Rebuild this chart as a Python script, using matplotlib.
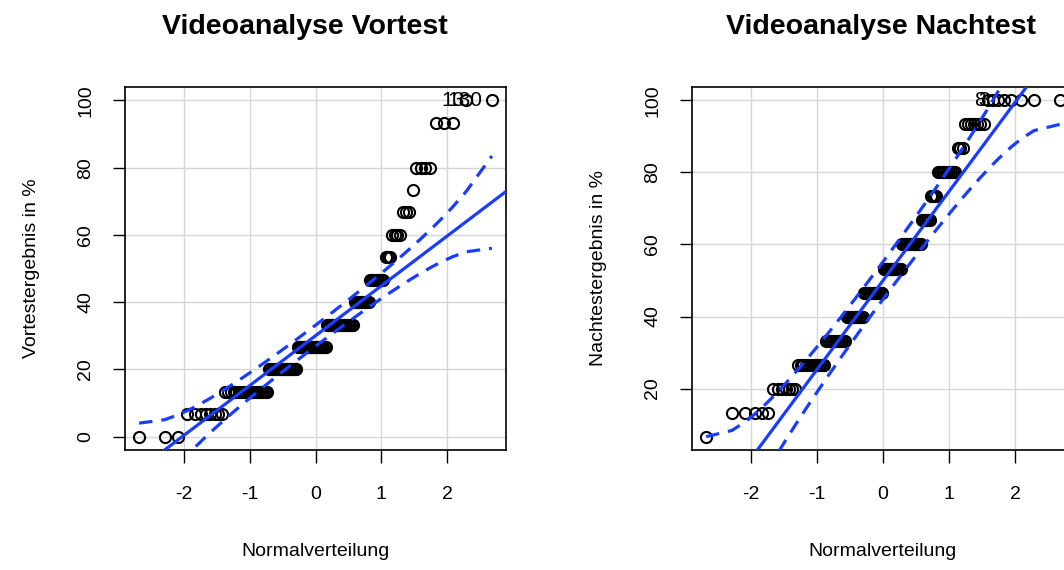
import numpy as np
import matplotlib
matplotlib.use("Agg")
import matplotlib.pyplot as plt
from statistics import NormalDist

plt.rcParams["font.family"] = ["Liberation Sans", "DejaVu Sans"]
plt.rcParams["axes.unicode_minus"] = False

# ── data: score levels (%) and how many students reached each level ─────────
levels_vor = [0, 6.67, 13.33, 20, 26.67, 33.33, 40, 46.67, 53.33, 60, 66.67, 73.33, 80, 93.33, 100]
counts_vor = [3, 8, 21, 21, 24, 21, 10, 8, 3, 4, 3, 1, 4, 3, 2]

levels_nach = [6.67, 13.33, 20, 26.67, 33.33, 40, 46.67, 53.33, 60, 66.67, 73.33, 80, 86.67, 93.33, 100]
counts_nach = [1, 5, 7, 13, 13, 13, 16, 15, 15, 6, 4, 10, 3, 7, 8]

labels_vor = ["13", "130"]
labels_nach = ["8", "3"]

BLUE = "#1a3cff"
W, H = 1064, 570
nd = NormalDist()


def qq_panel(ax, levels, counts, ylabel, ids, id_offsets, yticks):
    x = np.sort(np.repeat(levels, counts))
    n = len(x)
    P = (np.arange(1, n + 1) - 0.5) / n
    z = np.array([nd.inv_cdf(p) for p in P])

    # reference line through the quartiles
    qx = np.quantile(x, [0.25, 0.75])
    qz = np.array([nd.inv_cdf(0.25), nd.inv_cdf(0.75)])
    b = (qx[1] - qx[0]) / (qz[1] - qz[0])
    a = qx[0] - b * qz[0]

    # pointwise 95% envelope
    dens = np.array([nd.pdf(v) for v in z])
    se = (b / dens) * np.sqrt(P * (1 - P) / n)
    fit = a + b * z
    zz = nd.inv_cdf(0.975)

    xr = z.max() - z.min()
    yr = x.max() - x.min()
    ax.set_xlim(z.min() - 0.04 * xr, z.max() + 0.04 * xr)
    ax.set_ylim(x.min() - 0.04 * yr, x.max() + 0.04 * yr)

    ax.plot(z, x, "o", mfc="none", mec="black", mew=1.5, ms=8, zorder=2)
    xx = np.array(ax.get_xlim())
    ax.plot(xx, a + b * xx, color=BLUE, lw=2.3, zorder=3)
    ax.plot(z, fit + zz * se, color=BLUE, lw=2.3, ls=(0, (4.2, 2.8)), zorder=3)
    ax.plot(z, fit - zz * se, color=BLUE, lw=2.3, ls=(0, (4.2, 2.8)), zorder=3)

    # id labels for the first two points at the maximum score
    top = np.where(x == x.max())[0][:2]
    for lab, i, off in zip(ids, top, id_offsets):
        ax.annotate(lab, (z[i], x[i]), xytext=(off, 0), textcoords="offset points",
                    ha="right", va="center", fontsize=15, zorder=4,
                    annotation_clip=False)

    ax.set_xticks([-2, -1, 0, 1, 2])
    ax.set_yticks(yticks)
    ax.grid(True, color="#d6d6d6", lw=1.0, zorder=0)
    ax.set_axisbelow(True)
    ax.tick_params(axis="both", direction="out", length=9, width=1.0,
                   labelsize=14)
    ax.tick_params(axis="x", pad=17)
    ax.tick_params(axis="y", pad=13)
    for lab in ax.get_yticklabels():
        lab.set_rotation(90)
        lab.set_va("center")
    for s in ax.spines.values():
        s.set_linewidth(1.2)
    ax.set_xlabel("Normalverteilung", fontsize=14, labelpad=29)
    ax.set_ylabel(ylabel, fontsize=14, labelpad=27)


fig = plt.figure(figsize=(W / 100, H / 100), dpi=100)
ax1 = fig.add_axes([125 / W, 1 - 450 / H, (506 - 125) / W, (450 - 87) / H])
ax2 = fig.add_axes([692 / W, 1 - 450 / H, (1074 - 692) / W, (450 - 87) / H])

qq_panel(ax1, levels_vor, counts_vor, "Vortestergebnis in %",
         labels_vor, (-1, -7), [0, 20, 40, 60, 80, 100])
qq_panel(ax2, levels_nach, counts_nach, "Nachtestergebnis in %",
         labels_nach, (-2, -2), [20, 40, 60, 80, 100])

fig.text(305 / W, 1 - 27 / H, "Videoanalyse Vortest", ha="center", va="center",
         fontsize=20.5, fontweight="bold")
fig.text(881 / W, 1 - 27 / H, "Videoanalyse Nachtest", ha="center", va="center",
         fontsize=20.5, fontweight="bold")

fig.savefig("out.png", dpi=100)
